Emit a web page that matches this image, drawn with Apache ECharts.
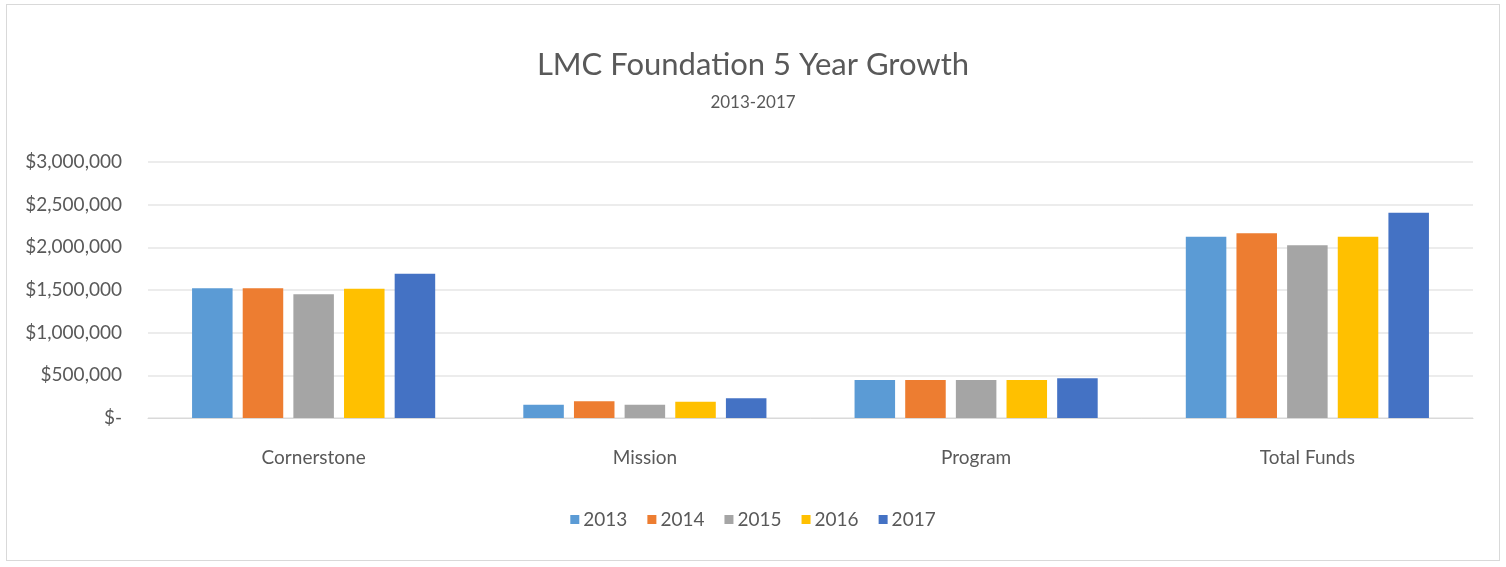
<!DOCTYPE html>
<html><head><meta charset="utf-8">
<script src="https://cdn.jsdelivr.net/npm/echarts@6/dist/echarts.min.js"></script>
<style>html,body{margin:0;padding:0;background:#fff;}#wrap{position:absolute;left:6px;top:4px;width:1494px;height:557px;border:1px solid #d9d9d9;box-sizing:border-box;}#c{position:absolute;left:0;top:0;width:1506px;height:567px;}</style>
</head><body><div id="wrap"></div><div id="c"></div>
<script>
const categories = ['Cornerstone', 'Mission', 'Program', 'Total Funds'];
const years = ['2013', '2014', '2015', '2016', '2017'];
const values2013 = [1520000, 155000, 445000, 2125000];
const values2014 = [1520000, 195000, 445000, 2165000];
const values2015 = [1450000, 155000, 445000, 2025000];
const values2016 = [1515000, 190000, 445000, 2125000];
const values2017 = [1690000, 232000, 465000, 2405000];
const colors = ['#5B9BD5', '#ED7D31', '#A5A5A5', '#FFC000', '#4472C4'];
const yTicks = [0, 500000, 1000000, 1500000, 2000000, 2500000, 3000000];

const seriesValues = [values2013, values2014, values2015, values2016, values2017];
const font = 'Lato, "Open Sans", sans-serif';
const chart = echarts.init(document.getElementById('c'));
chart.setOption({
  animation: false,
  color: colors,
  title: {
    text: 'LMC Foundation 5 Year Growth',
    subtext: '2013-2017',
    left: 'center', top: 44,
    itemGap: 14,
    textStyle: {fontFamily: font, fontSize: 31, fontWeight: 'normal', color: '#595959'},
    subtextStyle: {fontFamily: font, fontSize: 17, color: '#595959'}
  },
  legend: {
    bottom: 33, left: 'center',
    itemWidth: 9, itemHeight: 9, itemGap: 20,
    icon: 'rect',
    textStyle: {fontFamily: font, fontSize: 19, color: '#595959', padding: [0,0,0,-1]},
    data: years
  },
  grid: {left: 148, right: 33, top: 162, bottom: 149},
  xAxis: {
    type: 'category', data: categories,
    axisLine: {lineStyle: {color: '#d9d9d9'}},
    axisTick: {show: false},
    axisLabel: {fontFamily: font, fontSize: 19, color: '#595959', margin: 30}
  },
  yAxis: {
    type: 'value', min: 0, max: 3000000, interval: 500000,
    axisLine: {show: false}, axisTick: {show: false},
    splitLine: {lineStyle: {color: '#e6e6e6', width: 1.5}},
    axisLabel: {
      fontFamily: font, fontSize: 19, color: '#595959', margin: 26,
      formatter: v => v === 0 ? '$-' : '$' + v.toLocaleString('en-US')
    }
  },
  series: years.map((y, i) => ({
    name: y, type: 'bar', data: seriesValues[i],
    barGap: '25%', barCategoryGap: '26.6%',
    itemStyle: {color: colors[i]}
  }))
});
</script></body></html>
